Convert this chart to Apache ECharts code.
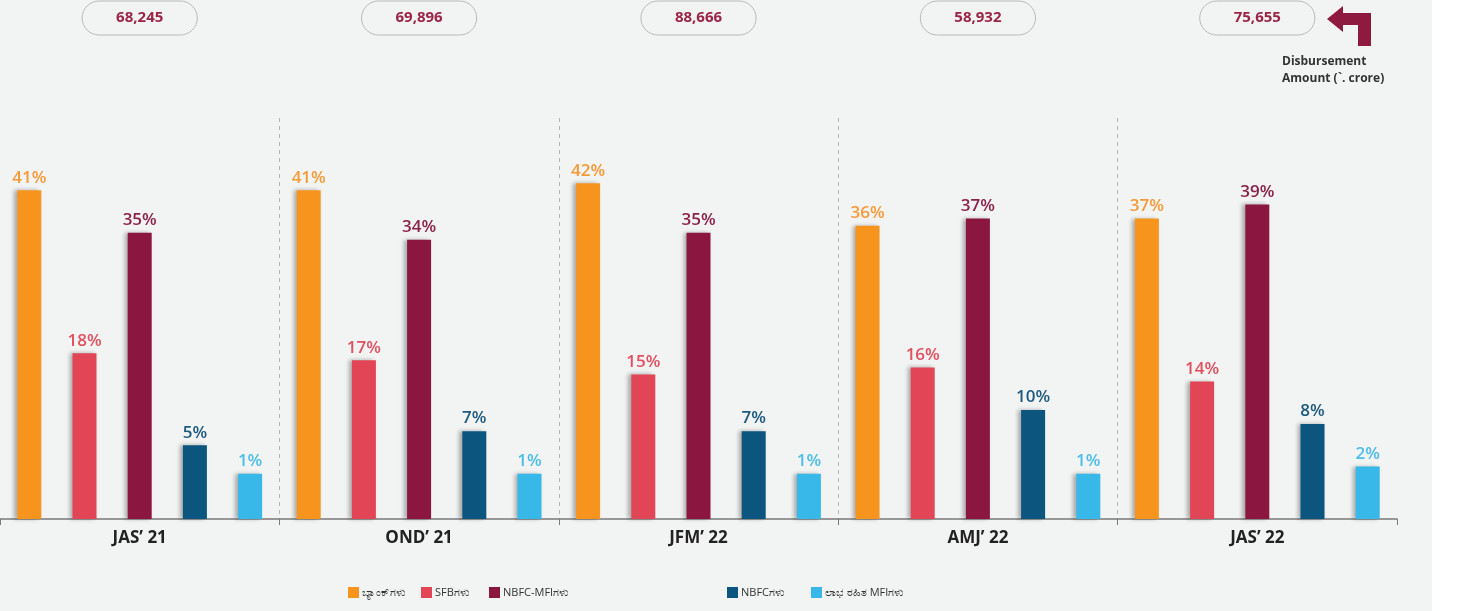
<!DOCTYPE html>
<html>
<head>
<meta charset="utf-8">
<script src="https://cdn.jsdelivr.net/npm/echarts@6/dist/echarts.min.js"></script>
<style>
  html, body { margin: 0; padding: 0; }
  body { background: linear-gradient(to right, #f2f3f3 0, #f2f3f3 1432px, #ffffff 1432px); }
  #main { width: 1457px; height: 611px; }
</style>
</head>
<body>
<div id="main"></div>
<script>
var quarters = ['JAS\u2019 21', 'OND\u2019 21', 'JFM\u2019 22', 'AMJ\u2019 22', 'JAS\u2019 22'];
var amounts = ['68,245', '69,896', '88,666', '58,932', '75,655'];
var banks = [41, 41, 42, 36, 37];
var sfbs = [18, 17, 15, 16, 14];
var nbfcMfis = [35, 34, 35, 37, 39];
var nbfcs = [5, 7, 7, 10, 8];
var nonProfit = [1, 1, 1, 1, 2];
var names = ['ಬ್ಯಾಂಕ್‌ಗಳು', 'SFBಗಳು', 'NBFC-MFIಗಳು', 'NBFCಗಳು', 'ಲಾಭ ರಹಿತ MFIಗಳು'];

var colors = ['#f7941e', '#e24556', '#8b1640', '#0b557f', '#38b7e9'];
var labelColors = ['#f49a36', '#e0505f', '#8a2249', '#1d5a80', '#4dbde9'];
var FONT = '"Open Sans", "Noto Sans", sans-serif';

var myChart = echarts.init(document.getElementById('main'));

function barSeries(i, data) {
	return {
		name: names[i],
		type: 'bar',
		data: data,
		barWidth: 24,
		barGap: '130%',
		itemStyle: {
			color: colors[i],
			shadowColor: 'rgba(0,0,0,0.3)',
			shadowBlur: 4,
			shadowOffsetX: -3
		},
		label: {
			show: true,
			position: 'top',
			distance: 4,
			formatter: '{c}%',
			color: labelColors[i],
			fontFamily: FONT,
			fontWeight: 600,
			fontSize: 17
		}
	};
}

// one legend per item, the gaps in the picture are not even
var legendLeft = [343, 416, 484, 722, 806];
var legends = [];
for (var i = 0; i < names.length; i++) {
	legends.push({
		data: [names[i]],
		left: legendLeft[i],
		top: 582,
		icon: 'rect',
		itemWidth: 11,
		itemHeight: 11,
		itemGap: 4,
		textStyle: { fontSize: 11, color: '#333', fontFamily: FONT, padding: [0, 0, 0, -2] },
		selectedMode: false
	});
}

myChart.setOption({
	backgroundColor: 'transparent',
	animation: false,
	grid: { left: 0, right: 60, top: 118, bottom: 92 },
	legend: legends,
	xAxis: [
		{
			type: 'category',
			data: quarters,
			position: 'bottom',
			axisLine: { onZero: false, lineStyle: { color: '#7a7a7a', width: 1.5 } },
			axisTick: { show: true, length: 6, lineStyle: { color: '#7a7a7a' } },
			axisLabel: {
				margin: 11,
				color: '#222',
				fontFamily: FONT,
				fontWeight: 'bold',
				fontSize: 17
			},
			splitLine: {
				show: true,
				showMinLine: false,
				showMaxLine: false,
				lineStyle: { color: '#b5b5b5', type: [4, 4], width: 1 }
			}
		},
		{
			type: 'category',
			data: amounts,
			position: 'top',
			axisLine: { show: false },
			axisTick: { show: false },
			axisLabel: {
				margin: 83,
				color: '#9b2447',
				fontFamily: FONT,
				fontWeight: 'bold',
				fontSize: 15,
				lineHeight: 18,
				padding: [8, 34],
				borderColor: '#b9b9b9',
				borderWidth: 1,
				borderRadius: 17
			}
		}
	],
	// the picture is not drawn to scale from zero, bars rise from a lower floor
	yAxis: {
		type: 'value',
		min: -5.4,
		max: 51.2,
		startValue: -5.4,
		show: false
	},
	graphic: [
		{
			type: 'polygon',
			shape: {
				points: [[1327, 19], [1343, 6], [1343, 13], [1371, 13], [1371, 46],
					[1358, 46], [1358, 25], [1343, 25], [1343, 32]]
			},
			style: { fill: '#8e1b3f' }
		},
		{
			type: 'text',
			left: 1282,
			top: 53,
			style: {
				text: 'Disbursement\nAmount (`. crore)',
				fill: '#333',
				font: 'bold 12px ' + FONT,
				lineHeight: 17
			}
		}
	],
	series: [
		barSeries(0, banks),
		barSeries(1, sfbs),
		barSeries(2, nbfcMfis),
		barSeries(3, nbfcs),
		barSeries(4, nonProfit)
	]
});
</script>
</body>
</html>
